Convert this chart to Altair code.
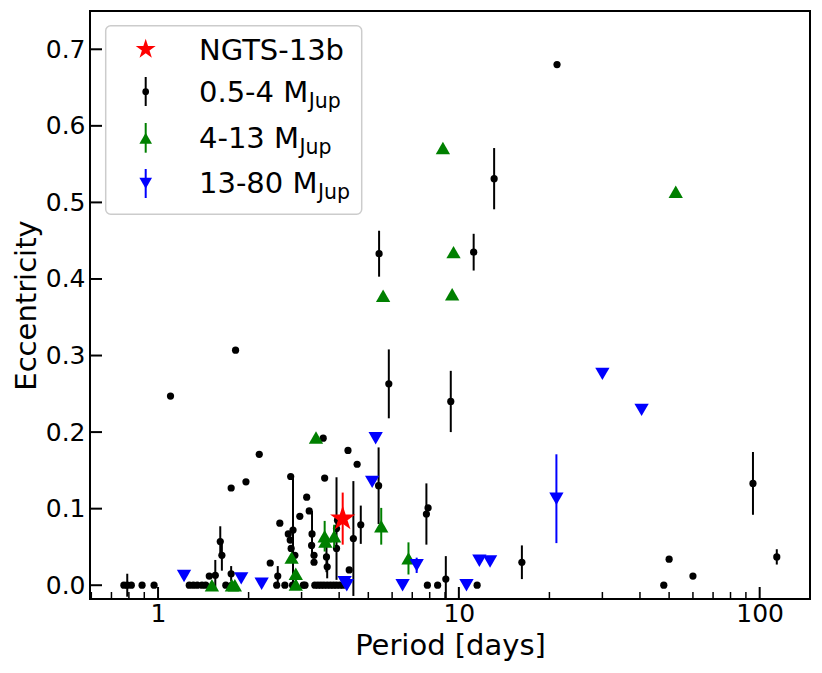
import altair as alt
import pandas as pd

FONT = "DejaVu Sans"

# ---- data ----
black_p = [0.77, 0.79, 0.815, 0.885, 0.97, 1.10, 1.27, 1.31, 1.35, 1.40, 1.44, 1.48, 1.55, 1.61, 1.63,
           1.68, 1.75, 1.76, 1.75, 1.81, 1.96, 2.17, 2.36, 2.50, 2.48, 2.64, 2.80, 3.04, 3.08, 2.54,
           2.71, 2.76, 2.81, 2.75, 2.77, 2.85, 2.96, 3.12, 3.18, 3.25, 3.24, 3.30, 3.30,
           3.32, 3.40, 3.48, 3.56, 3.65, 3.74, 3.83, 3.92, 4.02, 4.12,
           3.54, 3.58, 3.63, 3.65, 3.92, 3.92, 3.95, 4.28, 4.59, 4.32, 4.46, 4.72,
           5.43, 11.2, 13.1, 21.2, 5.85, 9.4, 5.41, 7.8, 7.9, 9.05, 7.86, 8.5, 11.5, 16.2,
           95.0, 114.0, 50.0, 60.0, 48.0]
black_e = [0.0, 0.0, 0.0, 0.0, 0.0, 0.247, 0.0, 0.0, 0.0, 0.0, 0.0, 0.012, 0.013, 0.057, 0.039,
           0.0, 0.015, 0.0, 0.127, 0.307, 0.135, 0.171, 0.029, 0.012, 0.0, 0.0, 0.0, 0.0, 0.0, 0.081,
           0.067, 0.142, 0.072, 0.059, 0.048, 0.039, 0.090, 0.115, 0.097, 0.067, 0.052, 0.039, 0.030,
           0.0, 0.0, 0.0, 0.0, 0.0, 0.0, 0.0, 0.0, 0.0, 0.0,
           0.192, 0.140, 0.037, 0.024, 0.074, 0.048, 0.085, 0.176, 0.158, 0.020, 0.061, 0.079,
           0.433, 0.435, 0.531, 0.680, 0.263, 0.240, 0.130, 0.093, 0.101, 0.008, 0.0, 0.0, 0.0, 0.030,
           0.133, 0.037, 0.034, 0.012, 0.0]
black_err = [0.0, 0.015, 0.0, 0.0, 0.0, 0.0, 0.0, 0.0, 0.0, 0.0, 0.0, 0.0, 0.02, 0.02, 0.02,
             0.0, 0.01, 0.0, 0.0, 0.0, 0.0, 0.0, 0.0, 0.013, 0.0, 0.0, 0.0, 0.0, 0.0, 0.0,
             0.0, 0.0, 0.068, 0.0, 0.0, 0.0, 0.0, 0.0, 0.0, 0.03, 0.0, 0.0, 0.0,
             0.0, 0.0, 0.0, 0.0, 0.0, 0.0, 0.0, 0.0, 0.0, 0.0,
             0.0, 0.0, 0.02, 0.015, 0.067, 0.0, 0.0, 0.0, 0.0, 0.0, 0.075, 0.025,
             0.03, 0.024, 0.04, 0.0, 0.045, 0.04, 0.05, 0.04, 0.0, 0.03, 0.0, 0.0, 0.0, 0.022,
             0.041, 0.01, 0.0, 0.0, 0.0]

green_p = [8.85, 9.6, 5.6, 9.5, 52.6, 5.52, 6.8, 3.35, 2.78, 2.87, 2.87, 3.58, 3.60, 3.85, 1.51, 1.76, 1.80]
green_e = [0.571, 0.435, 0.378, 0.380, 0.514, 0.077, 0.035, 0.193, 0.036, 0.015, 0.001, 0.064, 0.057, 0.064, 0.0, 0.0, 0.0]
green_err = [0.0, 0.0, 0.0, 0.005, 0.004, 0.024, 0.021, 0.0, 0.0, 0.0, 0.0, 0.02, 0.0, 0.015, 0.0, 0.0, 0.0]

blue_p = [1.22, 1.89, 2.21, 4.17, 4.24, 5.29, 5.15, 7.24, 6.5, 10.6, 11.7, 12.7, 21.1, 30.0, 40.5]
blue_e = [0.012, 0.009, 0.002, 0.004, 0.0, 0.192, 0.135, 0.026, 0.0, 0.0, 0.032, 0.031, 0.113, 0.276, 0.229]
blue_err = [0.0, 0.0, 0.0, 0.0, 0.0, 0.0, 0.0, 0.01, 0.0, 0.0, 0.0, 0.0, 0.058, 0.0, 0.0]

star_p = [4.11]
star_e = [0.087]
star_err = [0.034]

x_major_ticks = [1, 10, 100]
x_minor_ticks = [0.6, 0.7, 0.8, 0.9, 2, 3, 4, 5, 6, 7, 8, 9, 20, 30, 40, 50, 60, 70, 80, 90]
y_ticks = [0.0, 0.1, 0.2, 0.3, 0.4, 0.5, 0.6, 0.7]

legend_labels = ["NGTS-13b", "0.5-4 M", "4-13 M", "13-80 M"]
legend_sub = "Jup"

W, H = 720, 588

STAR = ("M0,-1L0.2245,-0.309L0.9511,-0.309L0.3633,0.118L0.5878,0.809L0,0.382"
        "L-0.5878,0.809L-0.3633,0.118L-0.9511,-0.309L-0.2245,-0.309Z")


def frame(p, e, err):
    df = pd.DataFrame({"P": p, "e": e, "err": err})
    df["lo"] = df["e"] - df["err"]
    df["hi"] = df["e"] + df["err"]
    return df


xs = alt.Scale(type="log", domain=[0.594, 147], nice=False)
ys = alt.Scale(domain=[-0.018, 0.75], nice=False, zero=False)

XAX = alt.Axis(
    values=x_major_ticks, labelExpr="datum.value", ticks=False, domain=False, grid=False,
    labelFont=FONT, labelFontSize=25, labelColor="black", labelBaseline="alphabetic",
    labelPadding=22, labelFlush=False,
    title="Period [days]", titleFont=FONT, titleFontSize=29, titleFontWeight="normal",
    titleColor="black", titleY=55, titleBaseline="alphabetic")
YAX = alt.Axis(
    values=y_ticks, format=".1f", ticks=False, domain=False, grid=False,
    labelFont=FONT, labelFontSize=25, labelColor="black", labelPadding=5,
    labelFlush=False,
    title="Eccentricity", titleFont=FONT, titleFontSize=29, titleFontWeight="normal",
    titleColor="black", titleX=-55, titleY=H / 2, titleAngle=270,
    titleBaseline="alphabetic", titleAlign="center")


def XF(f):
    return alt.X(f, type="quantitative", scale=xs, axis=XAX)


def YF(f):
    return alt.Y(f, type="quantitative", scale=ys, axis=YAX)


def group(df, color, shape, size):
    bars = alt.Chart(df).transform_filter("datum.err > 0").mark_rule(
        color=color, strokeWidth=2, clip=True).encode(x=XF("P"), y=YF("lo"), y2="hi")
    pts = alt.Chart(df).mark_point(shape=shape, filled=True, size=size, color=color,
                                   opacity=1, strokeWidth=0).encode(x=XF("P"), y=YF("e"))
    return [bars, pts]


black = group(frame(black_p, black_e, black_err), "black", "circle", 52)
green = group(frame(green_p, green_e, green_err), "#008000", "triangle-up", 205)
blue = group(frame(blue_p, blue_e, blue_err), "#0000ff", "triangle-down", 205)
star = group(frame(star_p, star_e, star_err), "#ff0000", STAR, 700)

# inward ticks
ytick = alt.Chart(pd.DataFrame({"t": y_ticks})).mark_rule(color="black", strokeWidth=2).encode(
    y=YF("t"), x=alt.value(0), x2=alt.value(12))
xmaj = alt.Chart(pd.DataFrame({"t": x_major_ticks})).mark_rule(color="black", strokeWidth=2).encode(
    x=XF("t"), y=alt.value(H), y2=alt.value(H - 12))
xmin = alt.Chart(pd.DataFrame({"t": x_minor_ticks})).mark_rule(color="black", strokeWidth=1.5).encode(
    x=XF("t"), y=alt.value(H), y2=alt.value(H - 7))

# custom legend (matplotlib style, with subscripts)
one = pd.DataFrame({"a": [0]})
lx = 55.7
leg_box = alt.Chart(one).mark_rect(cornerRadius=5, fill="white", fillOpacity=0.8,
                                   stroke="#cccccc", strokeWidth=1.5).encode(
    x=alt.value(15.7), x2=alt.value(271.7), y=alt.value(14.7), y2=alt.value(203.3))


def leg_sym(shape, color, size, y, bar=None):
    out = []
    if bar is not None:
        out.append(alt.Chart(one).mark_rule(color=color, strokeWidth=2).encode(
            x=alt.value(lx), y=alt.value(bar[0]), y2=alt.value(bar[1])))
    out.append(alt.Chart(one).mark_point(shape=shape, filled=True, size=size, color=color,
                                         opacity=1, strokeWidth=0).encode(
        x=alt.value(lx), y=alt.value(y)))
    return out


def leg_txt(text, x, y, size):
    return alt.Chart(one).mark_text(text=text, align="left", baseline="alphabetic", font=FONT,
                                    fontSize=size, color="black").encode(
        x=alt.value(x), y=alt.value(y))


LF = 29
legend = [leg_box]
legend += leg_sym(STAR, "#ff0000", 440, 38.3)
legend += leg_sym("circle", "black", 45, 80.7, (66, 95))
legend += leg_sym("triangle-up", "#008000", 160, 127.3, (112, 141.7))
legend += leg_sym("triangle-down", "#0000ff", 160, 172.3, (158, 187))
legend += [
    leg_txt(legend_labels[0], 109, 49, LF),
    leg_txt(legend_labels[1], 109, 90.7, LF), leg_txt(legend_sub, 109 + 3.768 * LF + 0.5, 96.7, 20.5),
    leg_txt(legend_labels[2], 109, 137, LF), leg_txt(legend_sub, 109 + 3.45 * LF + 0.5, 143, 20.5),
    leg_txt(legend_labels[3], 109, 182, LF), leg_txt(legend_sub, 109 + 4.086 * LF + 0.5, 188, 20.5),
]

chart = alt.layer(ytick, xmaj, xmin, *black, *green, *blue, *star, *legend).properties(
    width=W, height=H,
    background="white",
    autosize=alt.AutoSizeParams(type="none"),
    padding={"left": 82, "top": 3, "right": 4, "bottom": 70},
).configure_view(stroke="black", strokeWidth=2)

chart.save("out.html", embed_options={"renderer": "svg", "actions": False})
